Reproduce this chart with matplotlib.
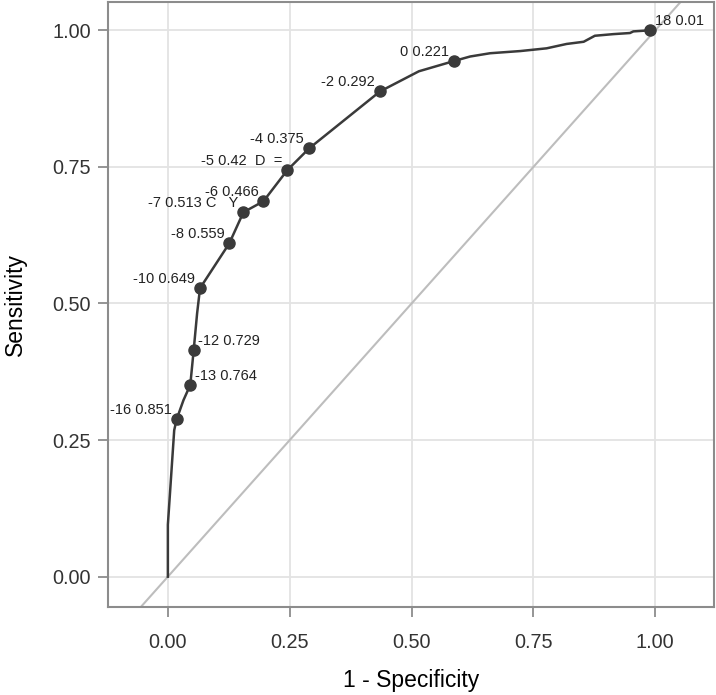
import matplotlib
matplotlib.use("Agg")
import matplotlib.pyplot as plt

plt.rcParams['font.family'] = ['Liberation Sans', 'DejaVu Sans']

# ROC curve path (1 - specificity, sensitivity)
fpr = [0.0, 0.0, 0.013, 0.018, 0.032, 0.046, 0.053, 0.060, 0.066, 0.126, 0.155,
       0.196, 0.245, 0.290, 0.435, 0.515, 0.588, 0.620, 0.661, 0.723, 0.777,
       0.818, 0.853, 0.876, 0.914, 0.948, 0.955, 0.990]
tpr = [0.0, 0.095, 0.268, 0.288, 0.323, 0.351, 0.415, 0.482, 0.528, 0.610, 0.667,
       0.687, 0.744, 0.784, 0.888, 0.925, 0.944, 0.952, 0.958, 0.962, 0.967,
       0.975, 0.979, 0.990, 0.993, 0.995, 0.998, 1.0]

# labelled cutoffs
cut_fpr = [0.018, 0.046, 0.053, 0.066, 0.126, 0.155, 0.196, 0.245, 0.290, 0.435, 0.588, 0.990]
cut_tpr = [0.288, 0.351, 0.415, 0.528, 0.610, 0.667, 0.687, 0.744, 0.784, 0.888, 0.944, 1.0]
cut_labels = ["-16 0.851", "-13 0.764", "-12 0.729", "-10 0.649", "-8 0.559",
              "-7 0.513 C   Y", "-6 0.466", "-5 0.42  D  =", "-4 0.375",
              "-2 0.292", "0 0.221", "18 0.01"]
label_right = [False, True, True, False, False, False, False, False, False,
               False, False, True]

xticks = [0.0, 0.25, 0.50, 0.75, 1.00]
yticks = [0.0, 0.25, 0.50, 0.75, 1.00]
tick_labels = ["0.00", "0.25", "0.50", "0.75", "1.00"]

W, H = 716, 695
fig = plt.figure(figsize=(W / 100, H / 100), dpi=100)
L, R, T, B = 108.3, 714.0, 1.5, 607.0
ax = fig.add_axes([L / W, 1 - B / H, (R - L) / W, (B - T) / H])

ax.set_xlim(-0.1222, 1.1204)
ax.set_ylim(-0.0555, 1.0527)

ax.set_xticks(xticks)
ax.set_xticklabels(tick_labels)
ax.set_yticks(yticks)
ax.set_yticklabels(tick_labels)
ax.grid(True, color='#e3e3e3', linewidth=1.3, zorder=0)
ax.set_axisbelow(True)

for s in ax.spines.values():
    s.set_color('#8c8c8c')
    s.set_linewidth(1.5)
ax.tick_params(axis='both', colors='#8c8c8c', length=7.5, width=1.3,
               labelcolor='#333333', labelsize=14.3)
ax.tick_params(axis='x', pad=11)
ax.tick_params(axis='y', pad=5)

ax.axline((0, 0), slope=1, color='#bdbdbd', linewidth=1.5, zorder=1)
ax.plot(fpr, tpr, color='#3a3a3a', linewidth=1.8, zorder=3, solid_joinstyle='round')
ax.plot(cut_fpr, cut_tpr, 'o', color='#3a3a3a', markersize=8, zorder=4)

for x, y, lab, right in zip(cut_fpr, cut_tpr, cut_labels, label_right):
    ax.annotate(lab, (x, y), xytext=(3.2 if right else -3.6, 6.5),
                textcoords='offset points', ha='left' if right else 'right',
                va='center', fontsize=10.5, color='#222222', zorder=5)

ax.set_xlabel('1 - Specificity', fontsize=16.5, color='black', labelpad=12.5)
ax.set_ylabel('Sensitivity', fontsize=16.5, color='black', labelpad=18)

fig.savefig('out.png', dpi=100)
